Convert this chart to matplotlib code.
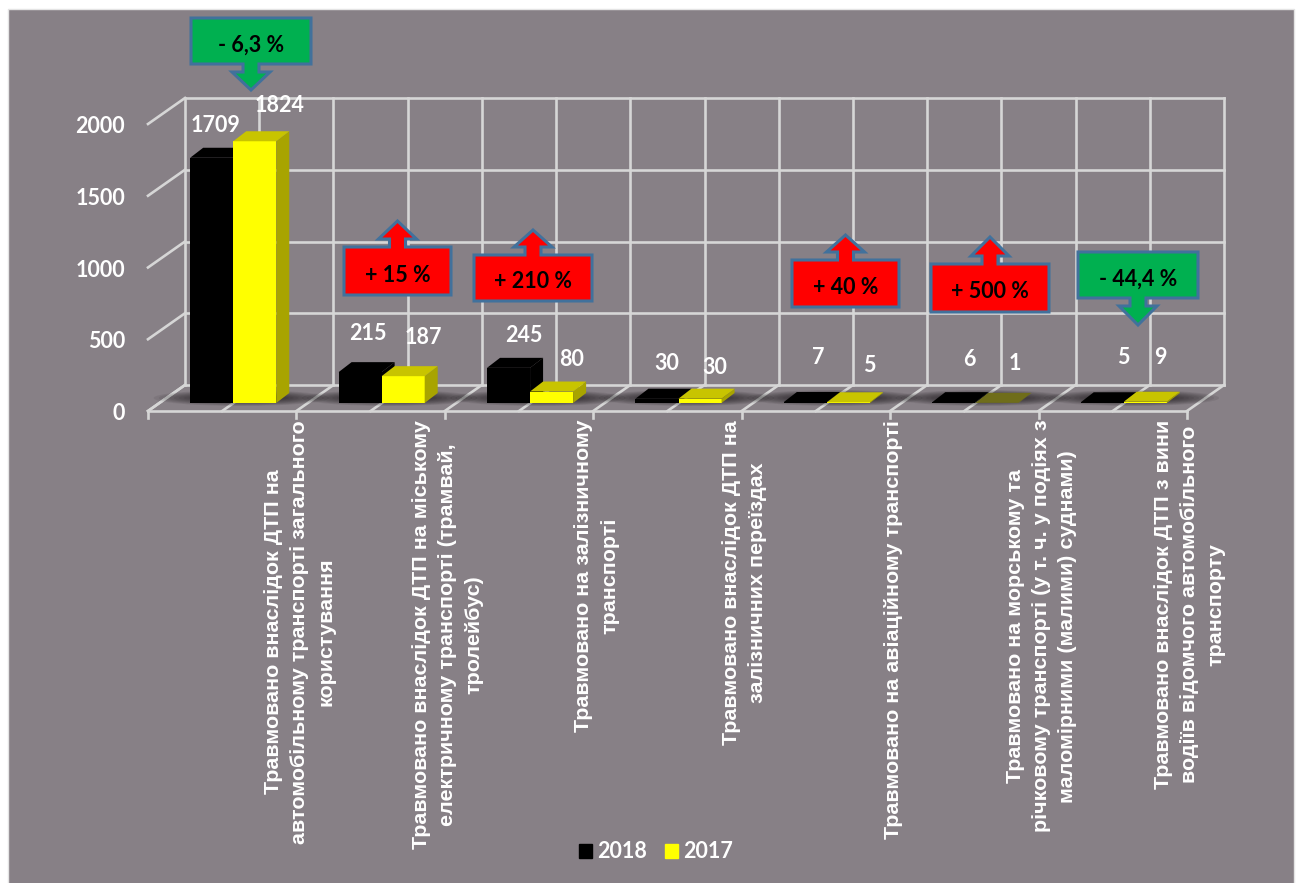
import matplotlib

matplotlib.use("Agg")
import matplotlib.pyplot as plt
from matplotlib.patches import Ellipse, Patch, Polygon, Rectangle
from matplotlib.transforms import Affine2D

categories = [
    "Травмовано внаслідок ДТП на\nавтомобільному транспорті загального\nкористування",
    "Травмовано внаслідок ДТП на міському\nелектричному транспорті (трамвай,\nтролейбус)",
    "Травмовано на залізничному\nтранспорті",
    "Травмовано внаслідок ДТП на\nзалізничних переїздах",
    "Травмовано на авіаційному транспорті",
    "Травмовано на морському та\nрічковому транспорті (у т. ч. у подіях з\nмаломірними (малими) суднами)",
    "Травмовано внаслідок ДТП з вини\nводіїв відомчого автомобільного\nтранспорту",
]
values_2018 = [1709, 215, 245, 30, 7, 6, 5]
values_2017 = [1824, 187, 80, 30, 5, 1, 9]
y_ticks = [0, 500, 1000, 1500, 2000]
changes = ["- 6,3 %", "+ 15 %", "+ 210 %", None, "+ 40 %", "+ 500 %", "- 44,4 %"]

W, H = 1299, 883
GREY = "#878086"
GRID = "#d6d6d6"
NUM_FONT = "Lato"
NUM_SIZE = 15.5

# layout in reference pixels
PX_X = 1 / 148.4  # one pixel in category units
PX_Y = 2000 / 287  # one pixel in value units
label_pos_2018 = [(216, 126), (368, 334), (524, 336), (667, 364), (818, 358), (969, 359), (1123, 358)]
label_pos_2017 = [(280, 106), (423, 337), (572, 360), (715, 368), (869, 365), (1015, 363), (1160, 358)]
# left, right, top, bottom of the box, tip y
callout_boxes = [
    (191, 311, 18, 64, 90),
    (344, 451, 247, 295, 221),
    (474, 592, 255, 301, 230),
    None,
    (792, 899, 260, 307, 235),
    (931, 1049, 264, 312, 237),
    (1078, 1198, 252, 298, 325),
]

fig = plt.figure(figsize=(W / 100, H / 100), dpi=100, facecolor="white")
fig.patches.append(
    Rectangle((8 / W, -0.01), (W - 13) / W, (H - 9) / H + 0.01, transform=fig.transFigure, facecolor=GREY,
              edgecolor="#e4e4e4", lw=1, zorder=-1)
)
ax = fig.add_axes([159 / W, (H - 403) / H, 1039 / W, 287 / H])
ax.set_xlim(0, 7)
ax.set_ylim(0, 2000)
ax.axis("off")

# reference pixels, y going down
pix = Affine2D().scale(1, -1).translate(0, H)


def wall_point(x, y, dx_px, dy_px):
    return x + dx_px * PX_X, y + dy_px * PX_Y


def draw_grid():
    back = (26, 18)
    front = (-11, -8)
    for t in y_ticks:
        x0, y0 = wall_point(0, t, *back)
        x1, y1 = wall_point(7, t, *back)
        ax.plot([x0, x1], [y0, y1], color=GRID, lw=1.9, clip_on=False, zorder=1)
        x2, y2 = wall_point(0, t, *front)
        ax.plot([x2, x0], [y2, y0], color=GRID, lw=1.9, clip_on=False, zorder=1)
        ax.text(x2 - 23 * PX_X, y2 - 2.5 * PX_Y, str(t), color="white", fontsize=NUM_SIZE, fontweight="bold",
                family=NUM_FONT, ha="right", va="center", clip_on=False)
    for i in range(15):
        x = i / 2
        x0, y0 = wall_point(x, 0, *back)
        x1, y1 = wall_point(x, 2000, *back)
        ax.plot([x0, x1], [y0, y1], color=GRID, lw=1.9, clip_on=False, zorder=1)
        x2, y2 = wall_point(x, 0, *front)
        ax.plot([x2, x0], [y2, y0], color=GRID, lw=1.9, clip_on=False, zorder=1)
    x0, y0 = wall_point(0, 0, *front)
    x1, y1 = wall_point(7, 0, *front)
    ax.plot([x0, x1], [y0, y1], color=GRID, lw=1.9, clip_on=False, zorder=1)
    for i in range(8):
        x, y = wall_point(i, 0, *front)
        ax.plot([x, x], [y, y - 7 * PX_Y], color=GRID, lw=1.9, clip_on=False, zorder=1)


def draw_shadow(i):
    px_x = 159 + (i + 0.5) / PX_X + 8
    for k in range(10):
        ax.add_patch(Ellipse((px_x, 398), 175 - k * 10, 16 - k * 1.2, color="black", alpha=0.07,
                             lw=0, transform=pix, clip_on=False, zorder=2))


def draw_bar(x, value, width, face, top, side):
    dx = 13 * PX_X
    dy = 10 * PX_Y
    ax.bar(x, value, width, align="edge", color=face, zorder=3, clip_on=False)
    ax.add_patch(Polygon([(x + width, 0), (x + width + dx, dy), (x + width + dx, value + dy), (x + width, value)],
                         color=side, lw=0, zorder=3, clip_on=False))
    ax.add_patch(Polygon([(x, value), (x + dx, value + dy), (x + width + dx, value + dy), (x + width, value)],
                         color=top, lw=0, zorder=3, clip_on=False))


def draw_callout(box, text, fill):
    left, right, top, bottom, tip = box
    cx = (left + right) / 2
    if tip > bottom:
        sh = bottom + 8
        pts = [(left, top), (right, top), (right, bottom), (cx + 8, bottom), (cx + 8, sh), (cx + 19, sh),
               (cx, tip), (cx - 19, sh), (cx - 8, sh), (cx - 8, bottom), (left, bottom)]
    else:
        sh = top - 8
        pts = [(left, bottom), (right, bottom), (right, top), (cx + 8, top), (cx + 8, sh), (cx + 19, sh),
               (cx, tip), (cx - 19, sh), (cx - 8, sh), (cx - 8, top), (left, top)]
    ax.add_patch(Polygon(pts, facecolor=fill, edgecolor="#41719c", lw=2.2, joinstyle="miter", transform=pix,
                         clip_on=False, zorder=5))
    ax.text(cx, (top + bottom) / 2 + 4, text, color="black", fontsize=NUM_SIZE, fontweight="bold", family=NUM_FONT,
            ha="center", va="center", transform=pix, zorder=6)


def main():
    draw_grid()
    bar_w = 0.29
    for i in range(len(categories)):
        draw_shadow(i)
        draw_bar(i + 0.5 - bar_w, values_2018[i], bar_w, "black", "black", "black")
        # the 1 case is so thin it looks olive on the floor
        top_2017 = "#c8c400" if values_2017[i] > 1 else "#6f6d1a"
        draw_bar(i + 0.5, values_2017[i], bar_w, "#ffff00", top_2017, "#a8a400")

        ax.text(*label_pos_2018[i], str(values_2018[i]), color="white", fontsize=NUM_SIZE, fontweight="bold",
                family=NUM_FONT, ha="center", va="center", transform=pix, zorder=6)
        ax.text(*label_pos_2017[i], str(values_2017[i]), color="white", fontsize=NUM_SIZE, fontweight="bold",
                family=NUM_FONT, ha="center", va="center", transform=pix, zorder=6)

        x_lab = (i + 1) - 8 * PX_X
        ax.text(x_lab, -17 * PX_Y, categories[i], color="white", fontsize=15.45, fontweight="bold",
                family="Liberation Sans", rotation=90, ha="center", va="top", multialignment="center",
                linespacing=1.49, clip_on=False)

        if changes[i] is not None:
            fill = "#00b050" if changes[i].startswith("-") else "#ff0000"
            draw_callout(callout_boxes[i], changes[i], fill)

    handles = [Patch(color="black", label="2018"), Patch(color="#ffff00", label="2017")]
    fig.legend(handles=handles, loc="center", bbox_to_anchor=(656 / W, 1 - 852 / H), ncol=2, frameon=False,
               handlelength=0.6, handleheight=0.6, handletextpad=0.25, columnspacing=0.85, labelcolor="white",
               prop={"family": NUM_FONT, "weight": "bold", "size": NUM_SIZE})

    fig.savefig("out.png", dpi=100, facecolor="white")


if __name__ == "__main__":
    main()
